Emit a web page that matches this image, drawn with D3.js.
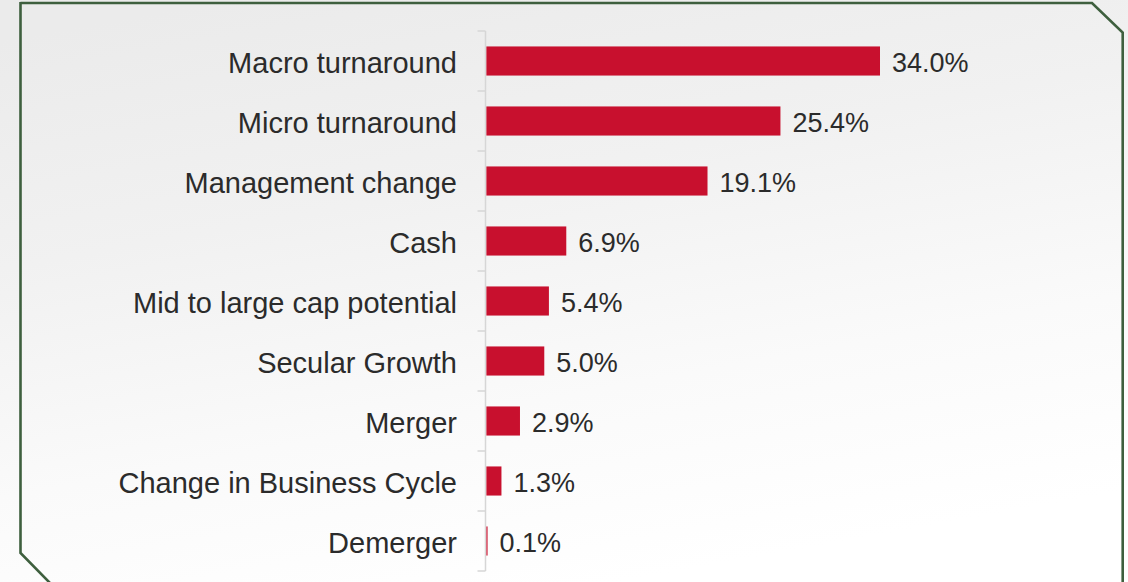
<!DOCTYPE html>
<html>
<head>
<meta charset="utf-8">
<script src="https://cdn.jsdelivr.net/npm/d3@7"></script>
<style>
  html, body { margin: 0; padding: 0; background: #ffffff; }
  svg { display: block; }
</style>
</head>
<body>
<svg id="chart" width="1128" height="582"></svg>
<script>
// Reasons behind the events
const categories = [
  "Macro turnaround",
  "Micro turnaround",
  "Management change",
  "Cash",
  "Mid to large cap potential",
  "Secular Growth",
  "Merger",
  "Change in Business Cycle",
  "Demerger"
];
const shares = [34.0, 25.4, 19.1, 6.9, 5.4, 5.0, 2.9, 1.3, 0.1];
const valueLabels = ["34.0%", "25.4%", "19.1%", "6.9%", "5.4%", "5.0%", "2.9%", "1.3%", "0.1%"];

const W = 1128, H = 582;
const svg = d3.select("#chart");

// soft grey backdrop fading to white towards the bottom
const defs = svg.append("defs");
const bg = defs.append("linearGradient")
  .attr("id", "bg").attr("x1", "0.2").attr("y1", "0").attr("x2", "0.55").attr("y2", "1");
bg.append("stop").attr("offset", "0").attr("stop-color", "#ebebeb");
bg.append("stop").attr("offset", "0.35").attr("stop-color", "#f1f1f1");
bg.append("stop").attr("offset", "0.7").attr("stop-color", "#fafafa");
bg.append("stop").attr("offset", "1").attr("stop-color", "#ffffff");
svg.append("rect").attr("width", W).attr("height", H).attr("fill", "url(#bg)");

// frame with clipped corners
svg.append("path")
  .attr("d", "M20.5,3 L1092,3 L1122.7,32.5 L1122.7,590 M20.5,2 L20.5,553 L50,583")
  .attr("fill", "none")
  .attr("stroke", "#3e5f3e")
  .attr("stroke-width", 2.6);

const axisX = 485.5;
const yTop = 31, yBottom = 571;
const x = d3.scaleLinear().domain([0, 34.0]).range([486.4, 880]);
const y = d3.scaleBand().domain(categories).range([yTop, yBottom]).paddingInner(0.515).paddingOuter(0.2575);

// category axis line
const gAxis = svg.append("g").attr("transform", `translate(${axisX},0)`)
  .call(d3.axisLeft(y).tickSize(0).tickFormat(""));
gAxis.select(".domain").attr("stroke", "#d6d6d6").attr("stroke-width", 1.5)
  .attr("d", `M0,${yTop}V${yBottom}`);
gAxis.selectAll(".tick").remove();

// boundary ticks between categories
const bounds = d3.range(categories.length + 1).map(i => yTop + i * y.step());
svg.append("g").selectAll("line").data(bounds).join("line")
  .attr("x1", axisX - 8).attr("x2", axisX)
  .attr("y1", d => d).attr("y2", d => d)
  .attr("stroke", "#d6d6d6").attr("stroke-width", 1.5);

// bars
svg.append("g").selectAll("rect").data(shares).join("rect")
  .attr("x", x(0))
  .attr("y", (d, i) => y(categories[i]))
  .attr("width", d => x(d) - x(0))
  .attr("height", y.bandwidth())
  .attr("fill", "#c8102e");

// category labels
svg.append("g").selectAll("text").data(categories).join("text")
  .attr("x", 457)
  .attr("y", d => y(d) + y.bandwidth() / 2)
  .attr("dy", "0.4em")
  .attr("text-anchor", "end")
  .attr("font-family", "Liberation Sans, Arial, sans-serif")
  .attr("font-size", 29)
  .attr("fill", "#2b2b2b")
  .text(d => d);

// value labels
svg.append("g").selectAll("text").data(shares).join("text")
  .attr("x", d => x(d) + 12)
  .attr("y", (d, i) => y(categories[i]) + y.bandwidth() / 2)
  .attr("dy", "0.4em")
  .attr("font-family", "Liberation Sans, Arial, sans-serif")
  .attr("font-size", 27)
  .attr("fill", "#2b2b2b")
  .text((d, i) => valueLabels[i]);
</script>
</body>
</html>
